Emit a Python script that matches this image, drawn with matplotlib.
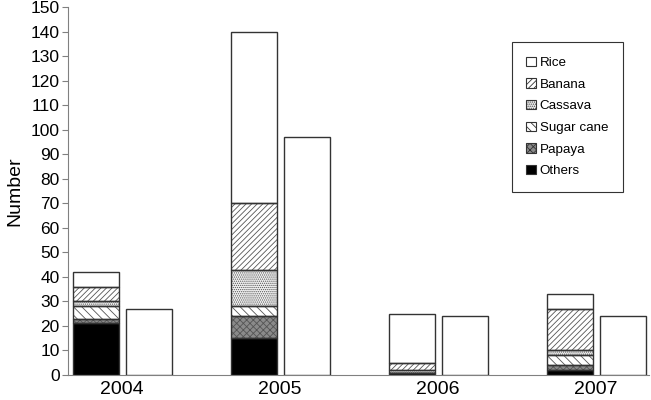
import matplotlib.pyplot as plt
from matplotlib.patches import Patch
import numpy as np

years = ['2004', '2005', '2006', '2007']
crops = ['Rice', 'Banana', 'Cassava', 'Sugar cane', 'Papaya', 'Others']

# stacked bar, bottom to top order: Others, Papaya, Sugar cane, Cassava, Banana, Rice
others = [21, 15, 1, 2]
papaya = [2, 9, 0, 2]
sugar_cane = [5, 4, 0, 4]
cassava = [2, 15, 1, 2]
banana = [6, 27, 3, 17]
rice = [6, 70, 20, 6]

# plain second bar per year
second_bar = [27, 97, 24, 24]

plt.rcParams['font.family'] = ['Liberation Sans', 'DejaVu Sans']
plt.rcParams['hatch.linewidth'] = 0.6

fig = plt.figure(figsize=(6.51, 4), dpi=100)
ax = fig.add_axes([0.1045, 0.0625, 0.8925, 0.92])

x = np.arange(len(years))
width = 0.291
offset = 0.168

styles = {
    'Others': dict(facecolor='black', hatch=None),
    'Papaya': dict(facecolor='#8a8a8a', hatch='xxxxx'),
    'Sugar cane': dict(facecolor='white', hatch='\\\\\\\\'),
    'Cassava': dict(facecolor='#f0f0f0', hatch='........'),
    'Banana': dict(facecolor='white', hatch='//////'),
    'Rice': dict(facecolor='white', hatch=None),
}

layers = [('Others', others), ('Papaya', papaya), ('Sugar cane', sugar_cane),
          ('Cassava', cassava), ('Banana', banana), ('Rice', rice)]

bottom = np.zeros(len(years))
for name, vals in layers:
    st = styles[name]
    ax.bar(x - offset, vals, width, bottom=bottom, color=st['facecolor'],
           hatch=st['hatch'], edgecolor='#555555', linewidth=0, zorder=2)
    ax.bar(x - offset, vals, width, bottom=bottom, fill=False,
           edgecolor='#333333', linewidth=1.0, zorder=3)
    bottom += np.array(vals)

ax.bar(x + offset, second_bar, width, color='white',
       edgecolor='#333333', linewidth=1.0, zorder=3)

ax.set_xlim(-0.342, 3.335)
ax.set_ylim(0, 150)
ax.set_yticks(range(0, 151, 10))
ax.set_xticks(x)
ax.set_xticklabels(years, fontsize=14)
ax.tick_params(axis='x', length=0, pad=4)
ax.tick_params(axis='y', labelsize=12.5, length=4, color='#808080', pad=2)
ax.set_ylabel('Number', fontsize=14, labelpad=5)

ax.spines['top'].set_visible(False)
ax.spines['right'].set_visible(False)
ax.spines['left'].set_color('#808080')
ax.spines['bottom'].set_color('#808080')

handles = []
for name in crops:
    st = styles[name]
    handles.append(Patch(facecolor=st['facecolor'], hatch=st['hatch'],
                         edgecolor='#333333', linewidth=0.8, label=name))

leg = ax.legend(handles=handles, loc='upper right',
                bbox_to_anchor=(0.955, 0.905), fontsize=9.6,
                handlelength=0.7, handleheight=0.7, handletextpad=0.3,
                labelspacing=0.7, borderpad=1.1, borderaxespad=0,
                fancybox=False, edgecolor='#333333', framealpha=1)
leg.get_frame().set_linewidth(0.8)

plt.savefig('out.png', dpi=100)
